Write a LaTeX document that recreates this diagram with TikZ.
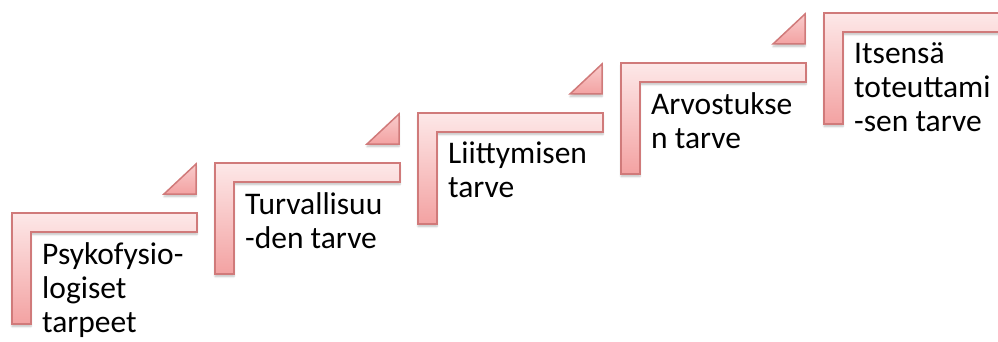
\documentclass[tikz,border=0pt]{standalone}
\usepackage{fontspec}
\setmainfont{Carlito}
\usetikzlibrary{shadows.blur}
\definecolor{stairline}{HTML}{D07A7A}
\definecolor{stairtop}{HTML}{FDE8E8}
\definecolor{stairbot}{HTML}{F3A2A2}
\tikzset{
  stair/.style={draw=stairline, line width=1.5pt, top color=stairtop, bottom color=stairbot,
    blur shadow={shadow xshift=0pt, shadow yshift=-2.5pt, shadow blur steps=6, shadow opacity=25}},
  corner/.style={draw=stairline, line width=1.5pt, top color=stairtop!60!stairbot, bottom color=stairbot,
    blur shadow={shadow xshift=0pt, shadow yshift=-2.5pt, shadow blur steps=6, shadow opacity=25}},
  label/.style={anchor=north west, align=left, inner sep=0pt, font=\fontsize{31.5}{34}\selectfont,
    execute at begin node=\rule{0pt}{25pt}}
}
\begin{document}
\begin{tikzpicture}[x=1pt, y=-1pt]
  \useasboundingbox (0,0) rectangle (998,342);
  % steps
  \draw[stair] (12,213) -- ++(185,0) -- ++(0,19) -- ++(-166,0) -- ++(0,92) -- ++(-19,0) -- cycle;
  \draw[stair] (215,163) -- ++(185,0) -- ++(0,19) -- ++(-166,0) -- ++(0,92) -- ++(-19,0) -- cycle;
  \draw[stair] (418,113) -- ++(185,0) -- ++(0,19) -- ++(-166,0) -- ++(0,92) -- ++(-19,0) -- cycle;
  \draw[stair] (621,63) -- ++(185,0) -- ++(0,19) -- ++(-166,0) -- ++(0,92) -- ++(-19,0) -- cycle;
  \draw[stair] (824,13) -- ++(185,0) -- ++(0,19) -- ++(-166,0) -- ++(0,92) -- ++(-19,0) -- cycle;
  % small triangles
  \draw[corner] (164,194) -- ++(32,0) -- ++(0,-30) -- cycle;
  \draw[corner] (367,144) -- ++(32,0) -- ++(0,-30) -- cycle;
  \draw[corner] (570,94) -- ++(32,0) -- ++(0,-30) -- cycle;
  \draw[corner] (773,44) -- ++(32,0) -- ++(0,-30) -- cycle;
  % texts (first baseline 54 below the top of the step)
  \node (psyko) [label] at (42,242) {Psykofysio-\\logiset\\tarpeet};
  \node (turva) [label] at (245,192) {Turvallisuu\\-den tarve};
  \node (liitt) [label] at (448,142) {Liittymisen\\tarve};
  \node (arvo) [label] at (651,92) {Arvostukse\\n tarve};
  \node (itse) [label] at (854,42) {Itsensä\\toteuttami\\-sen tarve};
\end{tikzpicture}
\end{document}
